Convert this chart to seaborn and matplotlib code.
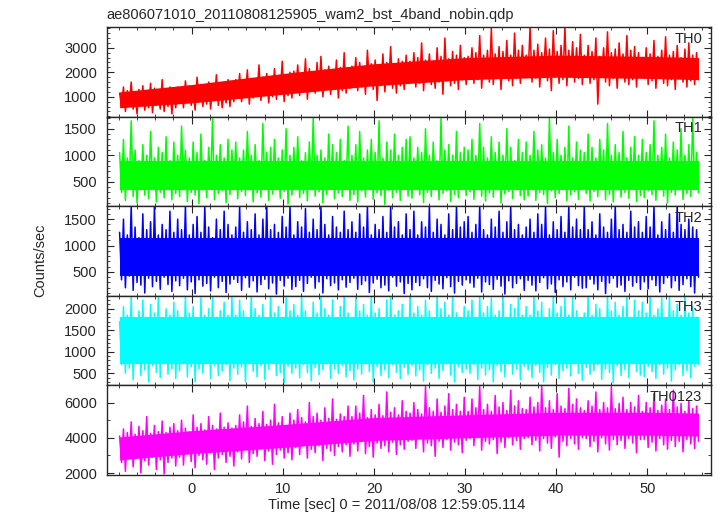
import numpy as np
import pandas as pd
import seaborn as sns
import matplotlib
matplotlib.use("Agg")
import matplotlib.pyplot as plt
from matplotlib.ticker import MultipleLocator

# light curves: alternating peak / trough rate per time bin
t_start, t_stop = -7.9, 55.6

th0_hi = [1150, 1400, 1250, 1600, 1100, 1300, 1450, 1200, 1550, 1350, 1150, 1700, 1250, 1400, 1300,
          1400, 1300, 1650, 1450, 1250, 1800, 1500, 1350, 1600, 1400, 1900, 1450, 1300, 1700, 1550,
          1700, 1950, 1600, 2100, 1750, 1650, 2300, 1800, 1950, 1700, 2150, 1850, 2450, 1750, 2000,
          2050, 2300, 1950, 2550, 2150, 2000, 2400, 2650, 2100, 2250, 2000, 2500, 2200, 2800, 2150,
          2250, 2600, 2400, 2200, 2900, 2350, 2500, 2250, 2750, 2400, 3050, 2300, 2550, 2450, 2700,
          2450, 2800, 2600, 3200, 2500, 2750, 2450, 3000, 2650, 3400, 2550, 2850, 2700, 3100, 2600,
          2650, 3000, 2800, 3500, 2700, 2900, 3800, 2750, 3050, 2850, 3300, 2700, 3600, 2900, 3100,
          2700, 3850, 2900, 3150, 2800, 3400, 2950, 3700, 2850, 3100, 3850, 2900, 3250, 3000, 3550,
          2700, 3100, 2850, 3400, 2650, 3000, 3650, 2800, 2950, 3200, 2750, 3500, 2900, 3050, 2800,
          2600, 3000, 2750, 3300, 2650, 2900, 3450, 2700, 2850, 3100, 2600, 2950, 3200, 2700, 2800]
th0_lo = [600, 400, 700, 500, 300, 650, 450, 550, 350, 700, 500, 400, 600, 300, 550,
          750, 550, 850, 650, 450, 800, 600, 700, 500, 850, 650, 550, 750, 600, 800,
          1000, 800, 1100, 700, 950, 1150, 850, 1050, 750, 1000, 900, 1150, 800, 1050, 950,
          1300, 1050, 1200, 900, 1350, 1150, 1250, 1000, 1400, 1100, 1300, 950, 1250, 1150, 1350,
          1500, 1250, 1400, 1100, 1550, 1300, 850, 1450, 1200, 1500, 1350, 1150, 1450, 1300, 1550,
          1650, 1400, 1550, 1250, 1700, 1500, 1350, 1600, 1100, 1650, 1450, 1550, 1300, 1700, 1500,
          1800, 1550, 1700, 1350, 1850, 1600, 1500, 1750, 1300, 1800, 1650, 1450, 1750, 1550, 1850,
          1850, 1600, 1750, 1400, 1900, 1650, 1250, 1800, 1550, 1700, 1450, 1850, 1600, 1750, 1500,
          1800, 1550, 1700, 700, 1850, 1600, 1450, 1750, 1350, 1800, 1600, 1500, 1700, 1400, 1800,
          1750, 1500, 1650, 1350, 1800, 1550, 1450, 1700, 1300, 1750, 1600, 1400, 1650, 1500, 1700]

th1_hi = [1050, 1300, 950, 1650, 1100, 900, 1200, 1000, 1450, 950, 1150, 1050, 1350, 900, 1250,
          1000, 1550, 1100, 950, 1250, 1050, 1400, 900, 1150, 1700, 1000, 1200, 950, 1300, 1100,
          1250, 950, 1100, 1450, 1000, 1200, 900, 1600, 1050, 1150, 1300, 950, 1100, 1500, 1000,
          1150, 1350, 900, 1050, 1250, 1700, 1000, 1100, 950, 1400, 1200, 1050, 1300, 900, 1550,
          1000, 1200, 1450, 950, 1100, 1300, 1050, 1650, 950, 1250, 1100, 1400, 1000, 1150, 1300,
          1350, 950, 1150, 1050, 1500, 1000, 1250, 900, 1700, 1100, 1200, 1000, 1450, 1050, 1150,
          1100, 1300, 1000, 1600, 1150, 950, 1350, 1050, 1250, 1000, 1500, 1150, 900, 1300, 1050,
          1250, 1000, 1450, 1100, 1200, 950, 1700, 1050, 1300, 1000, 1150, 1550, 950, 1250, 1100,
          1050, 1400, 1150, 950, 1300, 1100, 1600, 1000, 1200, 1050, 1450, 950, 1150, 1350, 1000,
          1300, 1050, 1200, 1650, 1000, 1150, 1400, 950, 1250, 1100, 1500, 1000, 1200, 1700, 1050]
th1_lo = [300, 150, 400, 220, 100, 350, 250, 180, 420, 120, 300, 200, 380, 160, 280,
          220, 380, 130, 300, 250, 90, 350, 200, 420, 160, 280, 330, 110, 260, 370,
          180, 320, 240, 400, 120, 290, 210, 360, 150, 270, 430, 190, 320, 80, 250,
          350, 200, 280, 140, 390, 230, 310, 100, 260, 370, 180, 290, 220, 410, 150,
          260, 120, 330, 210, 380, 170, 290, 240, 70, 340, 200, 300, 150, 360, 230,
          190, 350, 250, 110, 300, 220, 400, 160, 280, 330, 130, 260, 200, 370, 240,
          310, 170, 380, 230, 140, 290, 210, 350, 100, 270, 320, 180, 400, 240, 160,
          230, 360, 150, 300, 260, 90, 330, 200, 280, 380, 140, 250, 310, 170, 350,
          280, 140, 320, 220, 400, 160, 260, 120, 350, 210, 300, 190, 370, 130, 240,
          200, 330, 260, 150, 380, 230, 100, 300, 250, 350, 170, 280, 220, 360, 290]

th2_hi = [1250, 1500, 1200, 1750, 1350, 1150, 1600, 1300, 1450, 1750, 1200, 1400, 1300, 1650, 1250,
          1500, 1300, 1750, 1200, 1400, 1550, 1250, 1750, 1350, 1150, 1500, 1300, 1650, 1400, 1200,
          1350, 1750, 1250, 1450, 1300, 1600, 1200, 1500, 1750, 1300, 1400, 1250, 1550, 1350, 1750,
          1200, 1450, 1350, 1700, 1250, 1500, 1300, 1750, 1400, 1200, 1550, 1350, 1250, 1650, 1300,
          1450, 1250, 1600, 1350, 1750, 1200, 1400, 1300, 1550, 1250, 1750, 1350, 1450, 1200, 1600,
          1300, 1650, 1200, 1450, 1350, 1750, 1250, 1500, 1400, 1200, 1600, 1300, 1750, 1350, 1450,
          1550, 1250, 1400, 1750, 1300, 1200, 1500, 1350, 1650, 1250, 1450, 1750, 1300, 1400, 1200,
          1350, 1500, 1250, 1600, 1400, 1750, 1200, 1450, 1300, 1550, 1250, 1750, 1350, 1500, 1300,
          1750, 1300, 1450, 1200, 1600, 1350, 1250, 1500, 1750, 1300, 1400, 1250, 1650, 1350, 1450,
          1250, 1550, 1350, 1750, 1200, 1450, 1300, 1600, 1250, 1750, 1400, 1300, 1500, 1350, 1300]
th2_lo = [350, 200, 420, 150, 300, 250, 100, 380, 220, 320, 170, 400, 260, 130, 330,
          240, 380, 160, 310, 90, 350, 230, 280, 140, 400, 200, 320, 110, 270, 360,
          300, 150, 390, 210, 330, 120, 260, 360, 180, 290, 80, 340, 230, 380, 170,
          220, 340, 130, 280, 400, 190, 310, 100, 370, 240, 290, 160, 350, 210, 300,
          380, 170, 260, 330, 110, 290, 360, 200, 250, 140, 400, 230, 310, 90, 280,
          160, 300, 240, 370, 200, 130, 340, 270, 180, 390, 220, 100, 320, 250, 350,
          290, 210, 380, 120, 310, 260, 170, 360, 230, 80, 330, 200, 280, 370, 150,
          340, 250, 140, 300, 390, 180, 270, 110, 350, 220, 310, 160, 400, 240, 190,
          200, 360, 270, 160, 320, 90, 290, 380, 210, 250, 130, 340, 230, 300, 170,
          310, 180, 350, 240, 120, 280, 390, 200, 330, 150, 260, 370, 220, 100, 400]

th3_hi = [1700, 2050, 1850, 2300, 1750, 1950, 2200, 1800, 2100, 1900, 2300, 1750, 2000, 1850, 2150,
          1950, 1800, 2300, 1900, 2050, 1750, 2250, 1850, 2000, 2300, 1800, 1950, 2150, 1850, 2300,
          1850, 2200, 1950, 1800, 2300, 2000, 1850, 2100, 1750, 2300, 1900, 2050, 1800, 2250, 1950,
          2100, 1850, 2300, 1950, 1800, 2150, 1900, 2300, 2000, 1850, 2200, 1750, 2050, 2300, 1900,
          1800, 2250, 1950, 2100, 1850, 2300, 1900, 2000, 1750, 2200, 2300, 1850, 1950, 2100, 1800,
          2300, 1900, 2050, 1850, 2200, 1950, 1800, 2300, 2000, 2150, 1850, 2300, 1900, 1800, 2050,
          1950, 2200, 1800, 2300, 1900, 2050, 2250, 1850, 1950, 2300, 1800, 2100, 2000, 2300, 1850,
          2050, 1850, 2300, 1950, 2150, 1800, 2000, 2300, 1900, 2050, 2250, 1850, 2300, 1950, 1800,
          1900, 2300, 1850, 2100, 2000, 1800, 2300, 1950, 2150, 1850, 2050, 2300, 1800, 2200, 1950,
          2150, 1900, 2300, 1850, 2000, 2250, 1800, 2300, 1950, 2100, 1850, 2300, 1900, 2050, 1800]
th3_lo = [700, 500, 620, 350, 750, 450, 580, 300, 680, 520, 400, 720, 480, 600, 380,
          560, 720, 420, 650, 300, 600, 500, 750, 380, 680, 450, 550, 700, 330, 620,
          480, 650, 300, 720, 550, 420, 680, 360, 600, 750, 450, 520, 280, 660, 500,
          620, 400, 700, 520, 330, 640, 470, 580, 720, 380, 600, 500, 680, 420, 560,
          350, 600, 480, 720, 540, 300, 660, 450, 580, 400, 700, 520, 380, 640, 470,
          680, 440, 580, 320, 700, 500, 620, 380, 560, 720, 460, 300, 650, 520, 600,
          500, 700, 360, 620, 460, 580, 300, 680, 540, 420, 720, 480, 600, 350, 660,
          580, 400, 680, 520, 300, 640, 460, 700, 380, 560, 620, 440, 720, 500, 340,
          640, 480, 560, 700, 360, 600, 520, 280, 680, 450, 580, 400, 720, 540, 460,
          420, 660, 540, 380, 700, 480, 620, 320, 580, 700, 450, 560, 400, 660, 700]

th0123_hi = [4100, 4500, 4300, 4900, 4200, 4650, 4400, 5200, 4250, 4700, 4350, 4950, 4300, 4600, 4800,
             4400, 5000, 4550, 4350, 5300, 4600, 4800, 4450, 5200, 4700, 4500, 5400, 4600, 4850, 4550,
             4700, 5300, 4900, 5800, 4650, 5100, 4800, 5500, 4750, 5000, 5900, 4850, 5200, 4700, 5400,
             5000, 5600, 5150, 4900, 6000, 5200, 5400, 5000, 5700, 5100, 6200, 5050, 5350, 5200, 5800,
             5200, 5800, 5400, 6400, 5150, 5600, 5300, 5900, 5250, 6600, 5450, 5700, 5300, 6100, 5500,
             5400, 6000, 5600, 5350, 6900, 5700, 5500, 6200, 5450, 5800, 6500, 5600, 5900, 5500, 6300,
             5500, 6200, 5700, 6900, 5600, 5900, 5500, 6400, 5750, 6000, 5550, 6700, 5800, 6100, 5650,
             5600, 6300, 5750, 6000, 6950, 5700, 6100, 5600, 6500, 5800, 5650, 6800, 5900, 6200, 5700,
             5550, 6100, 5800, 6600, 5600, 6000, 5700, 6900, 5650, 5950, 6300, 5600, 6000, 5750, 6400,
             5500, 6000, 5700, 6500, 5550, 5850, 6200, 5600, 6700, 5750, 5950, 5500, 6100, 5650, 5800]
th0123_lo = [2600, 2100, 2800, 2350, 2950, 2000, 2700, 2450, 2900, 2200, 2750, 1950, 2600, 2850, 2400,
             2900, 2450, 3100, 2650, 2300, 3000, 2750, 2500, 3150, 2200, 2850, 3050, 2600, 2950, 2400,
             3200, 2800, 3350, 2600, 3100, 2950, 3400, 2700, 3250, 2500, 3050, 3300, 2850, 3150, 2750,
             3450, 3050, 3600, 2850, 3350, 3150, 3550, 2700, 3400, 3250, 3000, 3500, 3200, 3600, 2950,
             3650, 3250, 3800, 3100, 3500, 2900, 3700, 3400, 3550, 3200, 3750, 3050, 3600, 3350, 3800,
             3850, 3400, 3950, 3200, 3700, 3550, 2950, 3800, 3450, 3900, 3300, 3750, 3600, 3150, 3850,
             3950, 3550, 4000, 3300, 3800, 3650, 3900, 3100, 3750, 3450, 4000, 3600, 3850, 3350, 3950,
             4000, 3600, 3850, 3250, 3950, 3700, 3400, 4050, 2900, 3800, 3550, 3950, 3650, 3350, 4000,
             3950, 3500, 3800, 3200, 4000, 3650, 3300, 3900, 3600, 3850, 3400, 3950, 3700, 3150, 3900,
             3900, 3450, 3750, 3250, 3950, 3600, 3350, 3850, 3500, 3800, 3200, 3900, 3650, 3400, 3800]

# solid core of each band at a few times
core_t = [-7.9, 0, 10, 20, 30, 40, 50, 55.6]
th0_core_lo = [550, 750, 1100, 1450, 1700, 1800, 1750, 1700]
th0_core_hi = [1200, 1500, 1950, 2350, 2600, 2700, 2650, 2600]
th1_core_lo = [350, 350, 350, 350, 350, 350, 350, 350]
th1_core_hi = [900, 900, 900, 900, 900, 900, 900, 900]
th2_core_lo = [420, 420, 420, 420, 420, 420, 420, 420]
th2_core_hi = [1150, 1150, 1150, 1150, 1150, 1150, 1150, 1150]
th3_core_lo = [720, 720, 720, 720, 720, 720, 720, 720]
th3_core_hi = [1800, 1800, 1800, 1800, 1800, 1800, 1800, 1800]
th0123_core_lo = [2750, 3100, 3450, 3850, 4000, 4150, 4150, 4100]
th0123_core_hi = [4050, 4400, 4750, 5150, 5300, 5450, 5450, 5400]

bands = ["TH0", "TH1", "TH2", "TH3", "TH0123"]
colors = ["#ff0000", "#00ff00", "#0000ff", "#00ffff", "#ff00ff"]
highs = [th0_hi, th1_hi, th2_hi, th3_hi, th0123_hi]
lows = [th0_lo, th1_lo, th2_lo, th3_lo, th0123_lo]
core_lows = [th0_core_lo, th1_core_lo, th2_core_lo, th3_core_lo, th0123_core_lo]
core_highs = [th0_core_hi, th1_core_hi, th2_core_hi, th3_core_hi, th0123_core_hi]
ylims = [(190, 3850), (40, 1730), (47, 1745), (220, 2300), (1890, 6970)]
ymajor = [1000, 500, 500, 500, 2000]
yminor = [200, 100, 100, 100, 1000]

sns.set_style("ticks")
plt.rcParams['font.family'] = ['Liberation Sans', 'DejaVu Sans']
plt.rcParams['font.size'] = 10.5

fig, axes = plt.subplots(5, 1, figsize=(7.17, 5.16), dpi=100, sharex=True)
fig.subplots_adjust(left=0.149, right=0.992, top=1 - 27 / 516, bottom=1 - 475 / 516, hspace=0)

for ax, name, col, hi, lo, clo, chi, yl, ma, mi in zip(
        axes, bands, colors, highs, lows, core_lows, core_highs, ylims, ymajor, yminor):
    n = min(len(hi), len(lo))
    rate = np.empty(2 * n)
    rate[0::2] = hi[:n]
    rate[1::2] = lo[:n]
    df = pd.DataFrame({"time": np.linspace(t_start, t_stop, 2 * n), "rate": rate})
    ax.fill_between(core_t, clo, chi, color=col, lw=0)
    sns.lineplot(data=df, x="time", y="rate", sort=False, estimator=None,
                 color=col, lw=1.1, ax=ax)
    ax.set_ylim(*yl)
    ax.set_xlim(-9.3, 57.0)
    ax.yaxis.set_major_locator(MultipleLocator(ma))
    ax.yaxis.set_minor_locator(MultipleLocator(mi))
    ax.xaxis.set_major_locator(MultipleLocator(10))
    ax.xaxis.set_minor_locator(MultipleLocator(2))
    ax.tick_params(which="both", direction="in", top=True, right=True, labelsize=10.5)
    ax.tick_params(which="major", length=5, width=0.8, pad=7)
    ax.tick_params(which="minor", length=2.5, width=0.6)
    for s in ax.spines.values():
        s.set_linewidth(1.0)
    ax.set_xlabel("")
    ax.set_ylabel("")
    ax.text(0.985, 0.87, name, transform=ax.transAxes, ha="right", va="center", fontsize=10.5)

axes[-1].tick_params(axis="x", pad=5)
fig.text(0.149, 1 - 15 / 516, "ae806071010_20110808125905_wam2_bst_4band_nobin.qdp",
         ha="left", va="center", fontsize=10.5)
fig.text(397 / 717, 1 - 505 / 516, "Time [sec] 0 = 2011/08/08 12:59:05.114",
         ha="center", va="center", fontsize=10.5)
fig.text(40 / 717, 1 - 260 / 516, "Counts/sec", rotation=90, ha="center", va="center", fontsize=10.5)

fig.savefig("out.png", dpi=100)
